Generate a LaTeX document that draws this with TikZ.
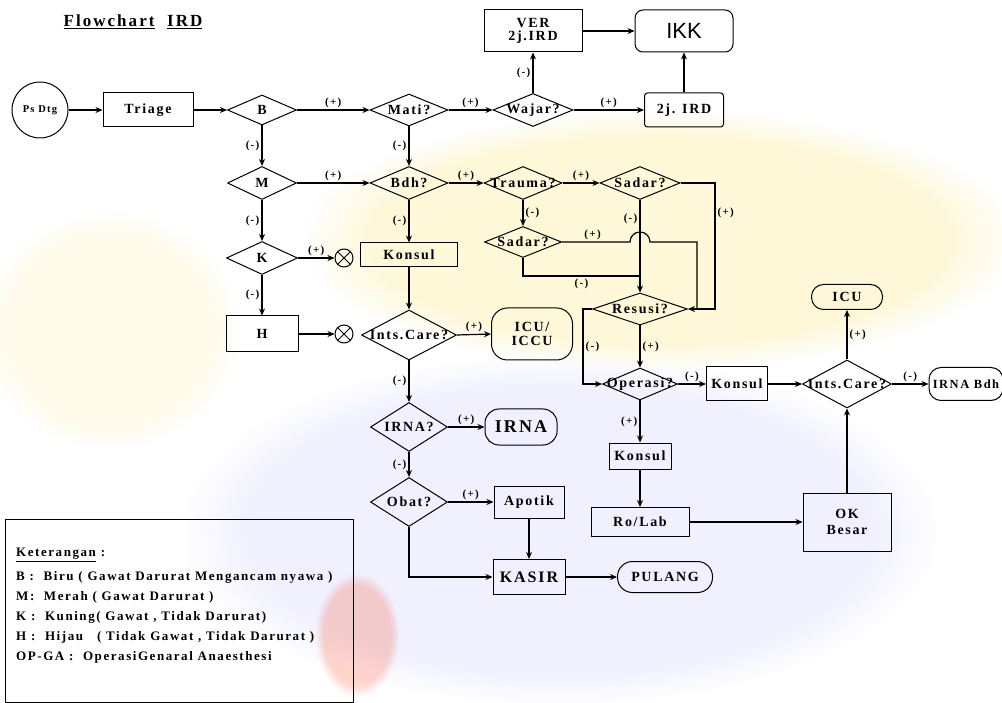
\documentclass[tikz,border=0pt]{standalone}
\usepackage{fontspec}
\setmainfont[LetterSpace=12]{Liberation Serif}
\setsansfont{Liberation Sans}
\usetikzlibrary{shapes.geometric,arrows.meta,fadings}

\begin{document}
\begin{tikzpicture}[x=1pt,y=-1pt,
  every node/.style={font=\bfseries\fontsize{14}{16}\selectfont},
  ln/.style={line width=1.2pt},
  lnk/.style={line width=1.2pt,-{Stealth[length=7pt,width=6pt]}},
  pl/.style={font=\bfseries\fontsize{11}{13}\selectfont,inner sep=2pt},
  rbox/.style 2 args={draw,line width=1pt,rectangle,inner sep=0pt,
    minimum width=#1,minimum height=#2,align=center},
  pill/.style n args={3}{draw,line width=1pt,rectangle,rounded corners=#3,
    inner sep=0pt,minimum width=#1,minimum height=#2,align=center},
  dia/.style 2 args={draw,line width=1pt,diamond,inner sep=0pt,
    minimum width=#1,minimum height=#2},
  stop/.style={draw,line width=1pt,circle,inner sep=0pt,minimum size=18pt},
  legtext/.style={anchor=west,inner sep=0pt,font=\bfseries\fontsize{13}{15}\selectfont}
]
% page frame
\useasboundingbox (0,0) rectangle (1002,703);
\fill[white] (0,0) rectangle (1002,703);

% faint watermark tints
\fill[yellow!70!orange,opacity=0.15,path fading=circle with fuzzy edge 20 percent]
  (660,240) ellipse (360 and 130);
\fill[yellow!70!orange,opacity=0.08,path fading=circle with fuzzy edge 20 percent]
  (110,330) ellipse (130 and 120);
\fill[blue!45,opacity=0.13,path fading=circle with fuzzy edge 20 percent]
  (560,530) ellipse (380 and 175);
\fill[red!60!orange,opacity=0.2,path fading=circle with fuzzy edge 20 percent]
  (357,635) ellipse (42 and 62);

% title
\node (title) at (133,22) {\fontsize{17}{19}\selectfont\underline{Flowchart}\ \ \underline{IRD}};

% first row
\node[draw,line width=1pt,circle,minimum size=56pt,inner sep=0pt] (ps) at (40,110)
  {\fontsize{10.5}{12}\selectfont Ps Dtg};
\node[rbox={90}{34}] (tri) at (148,110) {Triage};
\node[dia={69}{30},label={center:B}] (B) at (262,110) {};
\node[dia={78}{32},label={center:Mati?}] (mati) at (409,110) {};
\node[dia={80}{33},label={center:Wajar?}] (wajar) at (533,110) {};
\node[rbox={79}{34},rounded corners=3] (j2) at (684,110) {2j. IRD};
\node[rbox={98}{42}] (ver) at (533,31) {VER\\[-3pt]2j.IRD};
\node[pill={98}{42}{8},font=\sffamily\fontsize{22}{24}\selectfont] (ikk) at (684,31) {IKK};

% second row
\node[dia={69}{33},label={center:M}] (M) at (262,183) {};
\node[dia={78}{33},label={center:Bdh?}] (bdh) at (409,183) {};
\node[dia={78}{33},label={center:Trauma?}] (trauma) at (523,183) {};
\node[dia={80}{33},label={center:Sadar?}] (sadar1) at (640,183) {};
\node[dia={77}{31},label={center:Sadar?}] (sadar2) at (523,242) {};
\node[dia={95}{32},label={center:Resusi?}] (resusi) at (640,309) {};
\node[dia={75}{32},label={center:Operasi?}] (operasi) at (640,384) {};

% left column
\node[dia={71}{33},label={center:K}] (K) at (262,258) {};
\node[stop] (ot1) at (344,258) {};
\node[rbox={72}{36}] (H) at (262,334) {H};
\node[stop] (ot2) at (344,334) {};

% middle column
\node[rbox={97}{24}] (kon1) at (409,255) {Konsul};
\node[dia={95}{50},label={center:Ints.Care?}] (ic1) at (409,335) {};
\node[pill={81}{52}{16}] (icu1) at (532,334) {ICU/\\[-2pt]ICCU};
\node[dia={77}{49},label={center:IRNA?}] (irnaq) at (409,427) {};
\node[pill={72}{36}{14},font=\bfseries\fontsize{18}{20}\selectfont] (irna) at (521,427) {IRNA};
\node[dia={77}{49},label={center:Obat?}] (obat) at (409,502) {};
\node[rbox={70}{32}] (apotik) at (529,502) {Apotik};
\node[rbox={72}{35},font=\bfseries\fontsize{16}{18}\selectfont] (kasir) at (529,577) {KASIR};
\node[pill={95}{31}{15}] (pulang) at (665,577) {PULANG};

% right part
\node[rbox={61}{34}] (kon2) at (737,384) {Konsul};
\node[dia={89}{48},label={center:Ints.Care?}] (ic2) at (847,384) {};
\node[pill={71}{25}{12}] (icu2) at (847,297) {ICU};
\node[pill={74}{33}{12},font=\bfseries\fontsize{12.5}{14}\selectfont] (irnab) at (966,384) {IRNA Bdh};
\node[rbox={62}{26}] (kon3) at (640,456) {Konsul};
\node[rbox={98}{29}] (rolab) at (640,522) {Ro/Lab};
\node[rbox={88}{58}] (okb) at (847,522) {OK\\Besar};

% crosses inside the stop circles
\draw[line width=1pt] (ot1.north east) -- (ot1.south west) (ot1.north west) -- (ot1.south east);
\draw[line width=1pt] (ot2.north east) -- (ot2.south west) (ot2.north west) -- (ot2.south east);

% bend points
\coordinate (rjA) at (715,309);
\coordinate (rjB) at (697,309);
\coordinate (hopL) at (630,242);
\coordinate (hopR) at (650,242);
\coordinate (jn) at (640,276);
\coordinate (opL) at (583,384);

% connectors, first row
\draw[lnk] (ps) -- (tri);
\draw[lnk] (tri) -- (B);
\draw[lnk] (B.east) -- node[pl,above]{(+)} (mati.west);
\draw[lnk] (mati.east) -- node[pl,above]{(+)} (wajar.west);
\draw[lnk] (wajar.east) -- node[pl,above]{(+)} (j2.west);
\draw[lnk] (wajar.north) -- node[pl,left]{(-)} (ver.south);
\draw[lnk] (ver.east) -- (ikk.west);
\draw[lnk] (j2.north) -- (ikk.south);

% connectors, triage column
\draw[lnk] (B.south) -- node[pl,left]{(-)} (M.north);
\draw[lnk] (M.south) -- node[pl,left]{(-)} (K.north);
\draw[lnk] (K.east) -- node[pl,above]{(+)} (ot1.west);
\draw[lnk] (K.south) -- node[pl,left]{(-)} (H.north);
\draw[lnk] (H.east) -- (ot2.west);

% connectors, second row
\draw[lnk] (mati.south) -- node[pl,left]{(-)} (bdh.north);
\draw[lnk] (M.east) -- node[pl,above]{(+)} (bdh.west);
\draw[lnk] (bdh.east) -- node[pl,above]{(+)} (trauma.west);
\draw[lnk] (trauma.east) -- node[pl,above]{(+)} (sadar1.west);
\draw[lnk] (trauma.south) -- node[pl,right]{(-)} (sadar2.north);
\draw[lnk] (sadar1.south) -- node[pl,left,pos=0.2]{(-)} (resusi.north);
\draw[lnk] (sadar1.east) -| node[pl,right,pos=0.62]{(+)} (rjA) -- (resusi.east);
\draw[ln] (sadar2.east) -- node[pl,above,pos=0.45]{(+)} (hopL)
  arc[start angle=180,end angle=360,radius=10] -- (hopR) -| (rjB);
\draw[ln] (sadar2.south) |- node[pl,below,pos=0.75]{(-)} (jn);

% connectors, middle column
\draw[lnk] (bdh.south) -- node[pl,left]{(-)} (kon1.north);
\draw[lnk] (kon1.south) -- (ic1.north);
\draw[lnk] (ic1.east) -- node[pl,above]{(+)} (icu1.west);
\draw[lnk] (ic1.south) -- node[pl,left]{(-)} (irnaq.north);
\draw[lnk] (irnaq.east) -- node[pl,above]{(+)} (irna.west);
\draw[lnk] (irnaq.south) -- node[pl,left]{(-)} (obat.north);
\draw[lnk] (obat.east) -- node[pl,above]{(+)} (apotik.west);
\draw[lnk] (apotik.south) -- (kasir.north);
\draw[lnk] (obat.south) |- (kasir.west);
\draw[lnk] (kasir.east) -- (pulang.west);

% connectors, resuscitation and surgery
\draw[lnk] (resusi.west) -| node[pl,right,pos=0.75]{(-)} (opL) -- (operasi.west);
\draw[lnk] (resusi.south) -- node[pl,right]{(+)} (operasi.north);
\draw[lnk] (operasi.east) -- node[pl,above]{(-)} (kon2.west);
\draw[lnk] (kon2.east) -- (ic2.west);
\draw[lnk] (ic2.north) -- node[pl,right]{(+)} (icu2.south);
\draw[lnk] (ic2.east) -- node[pl,above]{(-)} (irnab.west);
\draw[lnk] (operasi.south) -- node[pl,left]{(+)} (kon3.north);
\draw[lnk] (kon3.south) -- (rolab.north);
\draw[lnk] (rolab.east) -- (okb.west);
\draw[lnk] (okb.north) -- (ic2.south);

% legend
\node[draw,line width=1pt,rectangle,minimum width=348pt,minimum height=183pt,
  inner sep=0pt,anchor=north west] (leg) at (5,519) {};
\node[legtext] (lg0) at (16,555) {\underline{Keterangan} :};
\node[legtext] (lg1) at (16,577) {B :\ \ Biru ( Gawat Darurat Mengancam nyawa )};
\node[legtext] (lg2) at (16,597) {M:\ \ Merah ( Gawat Darurat )};
\node[legtext] (lg3) at (16,617) {K :\ \ Kuning( Gawat , Tidak Darurat)};
\node[legtext] (lg4) at (16,637) {H :\ \ Hijau\hspace{14pt}( Tidak Gawat , Tidak Darurat )};
\node[legtext] (lg5) at (16,657) {OP-GA :\ \ OperasiGenaral Anaesthesi};
\end{tikzpicture}
\end{document}
